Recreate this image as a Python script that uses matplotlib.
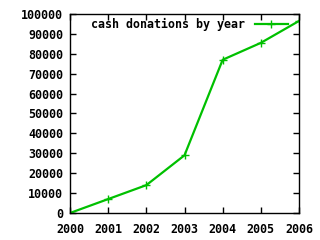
import matplotlib
matplotlib.use('Agg')
import matplotlib.pyplot as plt

years = [2000, 2001, 2002, 2003, 2004, 2005, 2006]
donations = [0, 7000, 14000, 29000, 77000, 85500, 96500]
yticks = list(range(0, 100001, 10000))

plt.rcParams['font.family'] = 'DejaVu Sans Mono'
plt.rcParams['font.weight'] = 'bold'

fig = plt.figure(figsize=(3.2, 2.4), dpi=100)
ax = fig.add_axes([70/320, 1 - 213/240, 229/320, 199/240])
ax.plot(years, donations, color='#00c000', linewidth=1.6, marker='+',
        markersize=6, markeredgewidth=1.0, label='cash donations by year')
ax.set_xlim(2000, 2006)
ax.set_ylim(0, 100000)
ax.set_xticks(years)
ax.set_yticks(yticks)
ax.tick_params(direction='in', length=4, width=1, top=True, right=True,
               labelsize=8.4)
ax.tick_params(axis='x', pad=7)
ax.tick_params(axis='y', pad=5)
for s in ax.spines.values():
    s.set_linewidth(1)
leg = ax.legend(loc='upper right', bbox_to_anchor=(0.984, 1.015),
                frameon=False, fontsize=8.4, handlelength=2.9,
                borderaxespad=0.2, markerfirst=False, handletextpad=0.8)
for t in leg.get_texts():
    t.set_fontweight('bold')
fig.savefig('out.png', dpi=100)
